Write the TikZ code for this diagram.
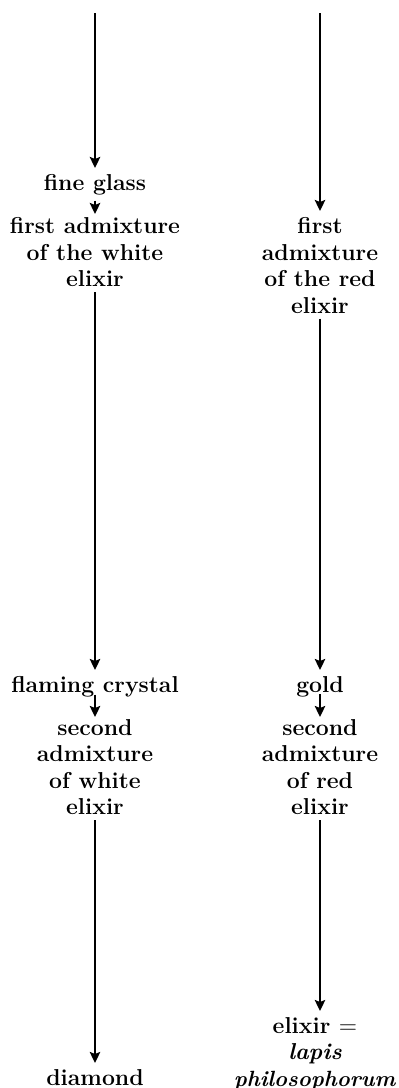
\documentclass[tikz,border=0pt]{standalone}
\usetikzlibrary{arrows.meta}

\tikzset{
    stage/.style={anchor=north, inner sep=0pt, align=center,
        font=\bfseries\fontsize{11.5}{13.25}\selectfont},
    flow/.style={-{Stealth[length=5.5pt,width=5.2pt,inset=1pt]}, line width=1.2pt,
        shorten <=2.5pt, shorten >=3pt},
}

\begin{document}
\begin{tikzpicture}[x=0.5pt,y=-0.5pt]
    \useasboundingbox (0,0) rectangle (398,1088);

    % white path
    \coordinate (wtop) at (95,13);
    \node[stage] (glass) at (95,174) {fine glass};
    \node[stage] (wfirst) at (95,217) {first admixture\\of the white\\elixir};
    \node[stage] (crystal) at (95,676) {flaming crystal};
    \node[stage] (wsecond) at (95,719) {second\\admixture\\of white\\elixir};
    \node[stage] (diamond) at (95,1069) {diamond};

    % red path
    \coordinate (rtop) at (320,13);
    \node[stage] (rfirst) at (320,217) {first\\admixture\\of the red\\elixir};
    \node[stage] (gold) at (320,676) {gold};
    \node[stage] (rsecond) at (320,719) {second\\admixture\\of red\\elixir};
    \node[stage] (stone) at (315,1017) {elixir $=$\\\textit{lapis}\\
        \textit{\fontsize{11}{13.25}\selectfont philosophorum}};

    % white arrows
    \draw[flow, shorten <=0pt] (wtop) -- (glass);
    \draw[flow, shorten >=1.5pt] (glass) -- (wfirst);
    \draw[flow] (wfirst) -- (crystal);
    \draw[flow, shorten <=1pt, shorten >=1pt] (crystal.base) -- (wsecond);
    \draw[flow] (wsecond) -- (diamond);

    % red arrows
    \draw[flow, shorten <=0pt] (rtop) -- (rfirst);
    \draw[flow] (rfirst) -- (gold);
    \draw[flow, shorten <=1pt, shorten >=1pt] (gold.base) -- (rsecond);
    \draw[flow] (rsecond) -- (rsecond |- stone.north);
\end{tikzpicture}
\end{document}
